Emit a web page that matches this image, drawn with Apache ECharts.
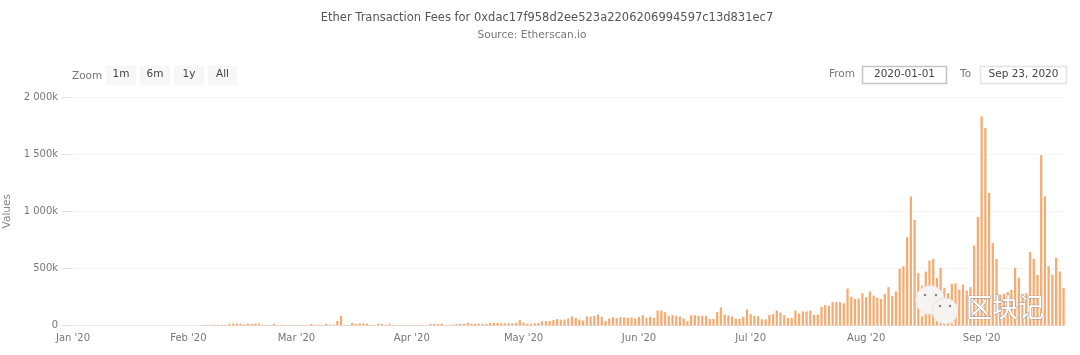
<!DOCTYPE html>
<html><head><meta charset="utf-8">
<style>html,body{margin:0;padding:0;background:#fff}#c{width:1080px;height:355px;filter:blur(0.4px)}</style>
<script src="https://cdn.jsdelivr.net/npm/echarts@6/dist/echarts.min.js"></script>
</head><body><div id="c"></div>
<script>
const titleText = 'Ether Transaction Fees for 0xdac17f958d2ee523a2206206994597c13d831ec7';
const subtitleText = 'Source: Etherscan.io';
const monthNames = ['Jan','Feb','Mar','Apr','May','Jun','Jul','Aug','Sep'];
const monthLengths = [31,29,31,30,31,30,31,31,23];
const yTicks = [0,500,1000,1500,2000];
// values in thousands, one per day
const jan = [0,0,0,0,0,0,0,0,0,0,0,0,0,0,0,0,0,0,0,0,0,0,0,0,0,0,0,0,0,0,0];
const feb = [0,0,0,0,5,5,6,6,5,6,6,15,17,18,16,9,15,14,17,16,6,5,5,14,5,6,5,5,6];
const mar = [5,4,5,5,14,5,6,5,14,7,8,40,85,6,5,23,15,18,17,16,5,5,17,14,6,15,5,4,4,5,4];
const apr = [4,4,3,3,3,15,15,14,16,5,4,6,14,15,14,24,15,14,16,13,15,23,22,23,19,20,21,18,24,47];
const may = [26,15,15,20,23,38,38,38,47,55,52,52,61,79,67,52,44,79,79,85,96,76,38,61,73,67,73,73,67,70,61];
const jun = [76,90,67,76,67,131,131,117,85,93,85,79,61,38,90,90,85,85,85,58,58,117,158,96,88,79,58,58,76,140];
const jul = [99,85,82,55,53,93,99,131,114,90,67,67,131,105,123,123,131,93,96,163,178,172,204,204,204,195,324,251,233,236,283];
const aug = [248,298,262,242,233,277,335,257,298,496,519,773,1130,925,458,350,472,569,583,417,505,330,283,365,368,315,359,306,335,700,950];
const sep = [1830,1730,1160,723,583,271,277,292,312,505,417,277,283,642,583,443,1490,1130,519,446,592,472,330];
const values = [].concat(jan,feb,mar,apr,may,jun,jul,aug,sep);
const categories = [];
const tickLabels = {};
monthNames.forEach((m,i)=>{
  tickLabels[categories.length] = m + " '20";
  for(let d=1;d<=monthLengths[i];d++) categories.push(m+' '+d+', 2020');
});

const font = '"DejaVu Sans"';
const Z = 50;
const btn = (x,w,label)=>[
  {type:'rect',z:Z,shape:{x:x,y:65.5,width:w,height:19.5},style:{fill:'#f7f7f7'},silent:true},
  {type:'text',z:Z,style:{x:x+w/2,y:74,text:label,fill:'#444',font:'10.5px '+font,align:'center',verticalAlign:'middle'},silent:true}
];
const box = (x,w,label,stroke)=>[
  {type:'rect',z:Z,shape:{x:x,y:66.5,width:w,height:17},style:{fill:'#fff',stroke:stroke,lineWidth:1.5},silent:true},
  {type:'text',z:Z,style:{x:x+w/2,y:74.5,text:label,fill:'#444',font:'10.5px '+font,align:'center',verticalAlign:'middle'},silent:true}
];
const lbl = (x,y,t,a)=>({type:'text',z:Z,style:{x:x,y:y,text:t,fill:'#777',font:'10.5px '+font,align:a||'left',verticalAlign:'middle'},silent:true});
const bubbleStyle = {fill:'#f6f4f1',stroke:'#dcd8d2',lineWidth:0.6};
const graphics = [].concat(
  [lbl(72,76,'Zoom')],
  btn(106,30,'1m'),btn(140,30,'6m'),btn(174,30,'1y'),btn(208,29,'All'),
  [lbl(829,74.5,'From')],box(862.5,84,'2020-01-01','#c4c4c4'),
  [lbl(960,74.5,'To')],box(980.5,86,'Sep 23, 2020','#e4e4e4'),
  [
   {type:'polygon',z:Z,shape:{points:[[921,309],[928,313],[921,317]]},style:{fill:'#f6f4f1'},silent:true},
   {type:'circle',z:Z,shape:{cx:930,cy:300,r:14.5},style:bubbleStyle,silent:true},
   {type:'circle',z:Z,shape:{cx:925,cy:295,r:1.2},style:{fill:'#8a7f72'},silent:true},
   {type:'circle',z:Z,shape:{cx:936,cy:295,r:1.2},style:{fill:'#8a7f72'},silent:true},
   {type:'polygon',z:Z,shape:{points:[[948,319],[955,324],[944,322]]},style:{fill:'#f6f4f1'},silent:true},
   {type:'circle',z:Z,shape:{cx:945,cy:311,r:13},style:bubbleStyle,silent:true},
   {type:'circle',z:Z,shape:{cx:940,cy:306,r:1.2},style:{fill:'#8a7f72'},silent:true},
   {type:'circle',z:Z,shape:{cx:950,cy:306,r:1.2},style:{fill:'#8a7f72'},silent:true},
   {type:'text',z:Z,style:{x:1005,y:307,text:'区块记',fill:'#ffffff',stroke:'#8f8f8f',lineWidth:0.8,font:'26px "Noto Sans CJK SC"',align:'center',verticalAlign:'middle'},silent:true}
  ]
);

const chart = echarts.init(document.getElementById('c'),null,{renderer:'canvas'});
chart.setOption({
  animation:false,
  backgroundColor:'#fff',
  title:[
   {text:titleText,left:542,top:7,textAlign:'center',textStyle:{color:'#555',fontSize:11.5,fontWeight:'normal',fontFamily:font}},
   {text:subtitleText,left:527,top:25,textAlign:'center',textStyle:{color:'#777',fontSize:10.6,fontWeight:'normal',fontFamily:font}}
  ],
  grid:{left:71.1,width:994.3,top:97,bottom:29.5,containLabel:false,outerBoundsMode:'none'},
  xAxis:{type:'category',data:categories,boundaryGap:true,
    axisLine:{lineStyle:{color:'#e6e6f0'}},
    axisTick:{alignWithLabel:true,length:8,lineStyle:{color:'#dbe2f0'},interval:(i)=>tickLabels[i]!==undefined},
    axisLabel:{interval:(i)=>tickLabels[i]!==undefined,formatter:(v,i)=>tickLabels[i]||'',color:'#777',fontSize:10,fontFamily:font,margin:8,hideOverlap:false},
    splitLine:{show:false}},
  yAxis:{type:'value',min:0,max:2000,interval:500,
    name:'Values',nameLocation:'middle',nameRotate:90,nameGap:57,nameTextStyle:{color:'#888',fontSize:10.5,fontFamily:font},
    axisLine:{show:false},axisTick:{show:true,length:9,lineStyle:{color:'#dbe2f0'}},
    axisLabel:{margin:13,color:'#777',fontSize:10,fontFamily:font,
      formatter:(v)=>{ if(!yTicks.includes(v)) return ''; if(v===0) return '0'; return (v>=1000?Math.floor(v/1000)+' '+String(v%1000).padStart(3,'0'):String(v))+'k'; }},
    splitLine:{lineStyle:{color:'#ececec',type:'dotted',width:1}}},
  series:[{type:'bar',data:values,barWidth:2.3,itemStyle:{color:'#f3ad74'},silent:true}],
  graphic:graphics
});
</script></body></html>
